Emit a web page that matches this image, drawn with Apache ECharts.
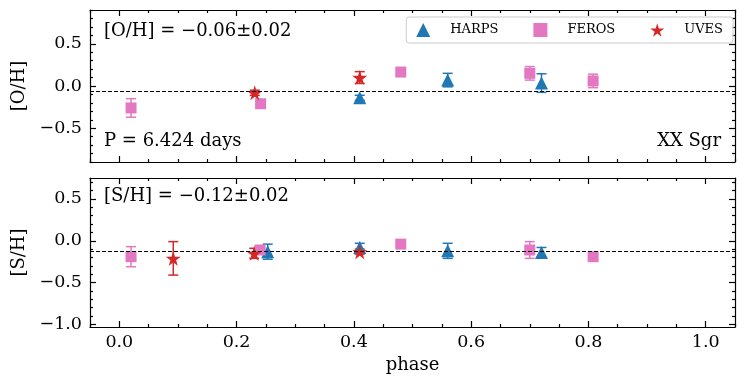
<!DOCTYPE html>
<html lang="en">
<head>
    <meta charset="UTF-8">
    <title>XX Sgr abundances</title>
    <script src="https://cdn.jsdelivr.net/npm/echarts@6/dist/echarts.min.js"></script>
    <style>
        html, body { margin: 0; padding: 0; background: #fff; }
        #chart { width: 750px; height: 380px; }
    </style>
</head>
<body>
    <div id="chart"></div>
    <script type="text/javascript">
        // [O/H] panel
        var harpsPhaseO = [0.41, 0.56, 0.72];
        var harpsO      = [-0.14, 0.07, 0.035];
        var harpsOErr   = [0.03, 0.08, 0.11];
        var ferosPhaseO = [0.02, 0.241, 0.48, 0.70, 0.808];
        var ferosO      = [-0.26, -0.21, 0.165, 0.15, 0.06];
        var ferosOErr   = [0.11, 0.03, 0.03, 0.08, 0.08];
        var uvesPhaseO  = [0.231, 0.41];
        var uvesO       = [-0.08, 0.10];
        var uvesOErr    = [0.03, 0.07];
        var meanO = -0.06;

        // [S/H] panel
        var harpsPhaseS = [0.253, 0.41, 0.56, 0.72];
        var harpsS      = [-0.13, -0.08, -0.12, -0.14];
        var harpsSErr   = [0.09, 0.05, 0.09, 0.06];
        var ferosPhaseS = [0.02, 0.24, 0.48, 0.70, 0.808];
        var ferosS      = [-0.19, -0.11, -0.04, -0.11, -0.19];
        var ferosSErr   = [0.12, 0.03, 0.03, 0.10, 0.03];
        var uvesPhaseS  = [0.092, 0.23, 0.41];
        var uvesS       = [-0.21, -0.15, -0.13];
        var uvesSErr    = [0.20, 0.06, 0.03];
        var meanS = -0.12;

        // tick values
        var xMajor = [0, 0.2, 0.4, 0.6, 0.8, 1.0];
        var xMinor = [-0.05, 0.05, 0.1, 0.15, 0.25, 0.3, 0.35, 0.45, 0.5, 0.55, 0.65, 0.7, 0.75, 0.85, 0.9, 0.95, 1.05];
        var yMajorO = [-0.5, 0, 0.5];
        var yMinorO = [-0.9, -0.8, -0.7, -0.6, -0.4, -0.3, -0.2, -0.1, 0.1, 0.2, 0.3, 0.4, 0.6, 0.7, 0.8, 0.9];
        var yMajorS = [-1.0, -0.5, 0, 0.5];
        var yMinorS = [-0.9, -0.8, -0.7, -0.6, -0.4, -0.3, -0.2, -0.1, 0.1, 0.2, 0.3, 0.4, 0.6, 0.7];

        var FONT = 'DejaVu Serif';
        var C_HARPS = '#1f77b4', C_FEROS = '#e377c2', C_UVES = '#d62728';
        var STAR = 'path://M50,0 L61,35 L98,35 L68,57 L79,91 L50,70 L21,91 L32,57 L2,35 L39,35 Z';

        var zip = function(xs, ys, es){
            var out = [];
            for (var i = 0; i < xs.length; i++) {
                out.push(es ? [xs[i], ys[i], es[i]] : [xs[i], ys[i]]);
            }
            return out;
        };
        var fmt = function(v){
            return Number(v).toFixed(1).replace('-', '\u2212');
        };

        //error bars with caps
        var errRender = function(params, api){
            var x = api.value(0), y = api.value(1), e = api.value(2);
            var top = api.coord([x, y + e]);
            var bot = api.coord([x, y - e]);
            var c = api.visual('color');
            var w = 5;
            var st = { stroke: c, lineWidth: 1.5 };
            return {
                type: 'group',
                children: [
                    { type: 'line', shape: { x1: top[0], y1: top[1], x2: bot[0], y2: bot[1] }, style: st },
                    { type: 'line', shape: { x1: top[0] - w, y1: top[1], x2: top[0] + w, y2: top[1] }, style: st },
                    { type: 'line', shape: { x1: bot[0] - w, y1: bot[1], x2: bot[0] + w, y2: bot[1] }, style: st }
                ]
            };
        };

        var lineStyle = { color: '#000', width: 1.2 };
        var tickFont = { color: '#000', fontFamily: FONT, fontSize: 17.5 };

        // major + minor overlay per side
        var makeX = function(grid, pos, labels, name){
            return [
                {
                    type: 'value', gridIndex: grid, position: pos, min: -0.05, max: 1.05,
                    axisLine: { show: true, onZero: false, lineStyle: lineStyle },
                    axisTick: { show: true, inside: true, length: 6, customValues: xMajor, lineStyle: lineStyle },
                    axisLabel: Object.assign({ show: labels, customValues: xMajor, formatter: fmt, margin: 6 }, tickFont),
                    splitLine: { show: false },
                    name: name, nameLocation: 'middle', nameGap: 29,
                    nameTextStyle: { color: '#000', fontFamily: FONT, fontSize: 18 }
                },
                {
                    type: 'value', gridIndex: grid, position: pos, min: -0.05, max: 1.05,
                    axisLine: { show: false, onZero: false },
                    axisTick: { show: true, inside: true, length: 3, customValues: xMinor, lineStyle: lineStyle },
                    axisLabel: { show: false },
                    splitLine: { show: false }
                }
            ];
        };
        var makeY = function(grid, pos, labels, min, max, major, minor, name){
            return [
                {
                    type: 'value', gridIndex: grid, position: pos, min: min, max: max,
                    axisLine: { show: true, onZero: false, lineStyle: lineStyle },
                    axisTick: { show: true, inside: true, length: 6, customValues: major, lineStyle: lineStyle },
                    axisLabel: Object.assign({ show: labels, customValues: major, formatter: fmt, margin: 8 }, tickFont),
                    splitLine: { show: false },
                    name: name, nameLocation: 'middle', nameGap: 61, nameRotate: 90,
                    nameTextStyle: { color: '#000', fontFamily: FONT, fontSize: 18 }
                },
                {
                    type: 'value', gridIndex: grid, position: pos, min: min, max: max,
                    axisLine: { show: false, onZero: false },
                    axisTick: { show: true, inside: true, length: 3, customValues: minor, lineStyle: lineStyle },
                    axisLabel: { show: false },
                    splitLine: { show: false }
                }
            ];
        };

        var xAxes = [].concat(
            makeX(0, 'bottom', false, ''),   // 0,1
            makeX(0, 'top', false, ''),      // 2,3
            makeX(1, 'bottom', true, 'phase'), // 4,5
            makeX(1, 'top', false, '')       // 6,7
        );
        var yAxes = [].concat(
            makeY(0, 'left', true, -0.9, 0.9, yMajorO, yMinorO, '[O/H]'),   // 0,1
            makeY(0, 'right', false, -0.9, 0.9, yMajorO, yMinorO, ''),      // 2,3
            makeY(1, 'left', true, -1.03, 0.75, yMajorS, yMinorS, '[S/H]'), // 4,5
            makeY(1, 'right', false, -1.03, 0.75, yMajorS, yMinorS, '')     // 6,7
        );

        var meanLine = function(v){
            return {
                silent: true, symbol: 'none', label: { show: false },
                lineStyle: { color: '#000', type: [4, 2], width: 1 },
                data: [{ yAxis: v }]
            };
        };

        var panelSeries = function(xi, yi, sets, mean){
            var out = [];
            sets.forEach(function(s, k){
                out.push({
                    type: 'custom', name: s.name + ' err', xAxisIndex: xi, yAxisIndex: yi,
                    itemStyle: { color: s.color }, renderItem: errRender,
                    encode: { x: 0, y: 1 }, data: zip(s.x, s.y, s.e), silent: true
                });
                var sc = {
                    type: 'scatter', name: s.name, xAxisIndex: xi, yAxisIndex: yi,
                    symbol: s.symbol, symbolSize: s.size,
                    itemStyle: { color: s.color, opacity: 1 },
                    data: zip(s.x, s.y), silent: true
                };
                if (k === 0) sc.markLine = meanLine(mean);
                out.push(sc);
            });
            return out;
        };

        var series = [].concat(
            panelSeries(0, 0, [
                { name: 'HARPS', color: C_HARPS, symbol: 'triangle', size: 13, x: harpsPhaseO, y: harpsO, e: harpsOErr },
                { name: 'FEROS', color: C_FEROS, symbol: 'rect', size: 11, x: ferosPhaseO, y: ferosO, e: ferosOErr },
                { name: 'UVES', color: C_UVES, symbol: STAR, size: 15, x: uvesPhaseO, y: uvesO, e: uvesOErr }
            ], meanO),
            panelSeries(4, 4, [
                { name: 'HARPS', color: C_HARPS, symbol: 'triangle', size: 13, x: harpsPhaseS, y: harpsS, e: harpsSErr },
                { name: 'FEROS', color: C_FEROS, symbol: 'rect', size: 11, x: ferosPhaseS, y: ferosS, e: ferosSErr },
                { name: 'UVES', color: C_UVES, symbol: STAR, size: 15, x: uvesPhaseS, y: uvesS, e: uvesSErr }
            ], meanS)
        );

        var txt = function(x, y, s, align){
            return {
                type: 'text', x: x, y: y, silent: true,
                style: { text: s, fill: '#000', font: '18px "' + FONT + '"', align: align || 'left', verticalAlign: 'middle' }
            };
        };

        var myChart = echarts.init(document.getElementById('chart'), null, { renderer: 'canvas' });
        myChart.setOption({
            animation: false,
            backgroundColor: '#fff',
            grid: [
                { left: 90, top: 10, width: 645, height: 152 },
                { left: 90, top: 178, width: 645, height: 149 }
            ],
            xAxis: xAxes,
            yAxis: yAxes,
            legend: {
                data: [
                    { name: 'HARPS', icon: 'triangle' },
                    { name: 'FEROS', icon: 'rect' },
                    { name: 'UVES', icon: STAR }
                ],
                right: 17, top: 17, itemGap: 35, itemWidth: 14, itemHeight: 14,
                padding: [6, 10, 6, 10],
                borderColor: '#ccc', borderWidth: 1, borderRadius: 3,
                backgroundColor: 'rgba(255,255,255,0.8)',
                textStyle: { color: '#000', fontFamily: FONT, fontSize: 13, padding: [0, 0, 0, 15] },
                selectedMode: false
            },
            graphic: [
                txt(104, 31, '[O/H] = \u22120.06\u00b10.02'),
                txt(104, 141, 'P = 6.424 days'),
                txt(721, 141, 'XX Sgr', 'right'),
                txt(104, 196, '[S/H] = \u22120.12\u00b10.02')
            ],
            series: series
        });
    </script>
</body>
</html>
